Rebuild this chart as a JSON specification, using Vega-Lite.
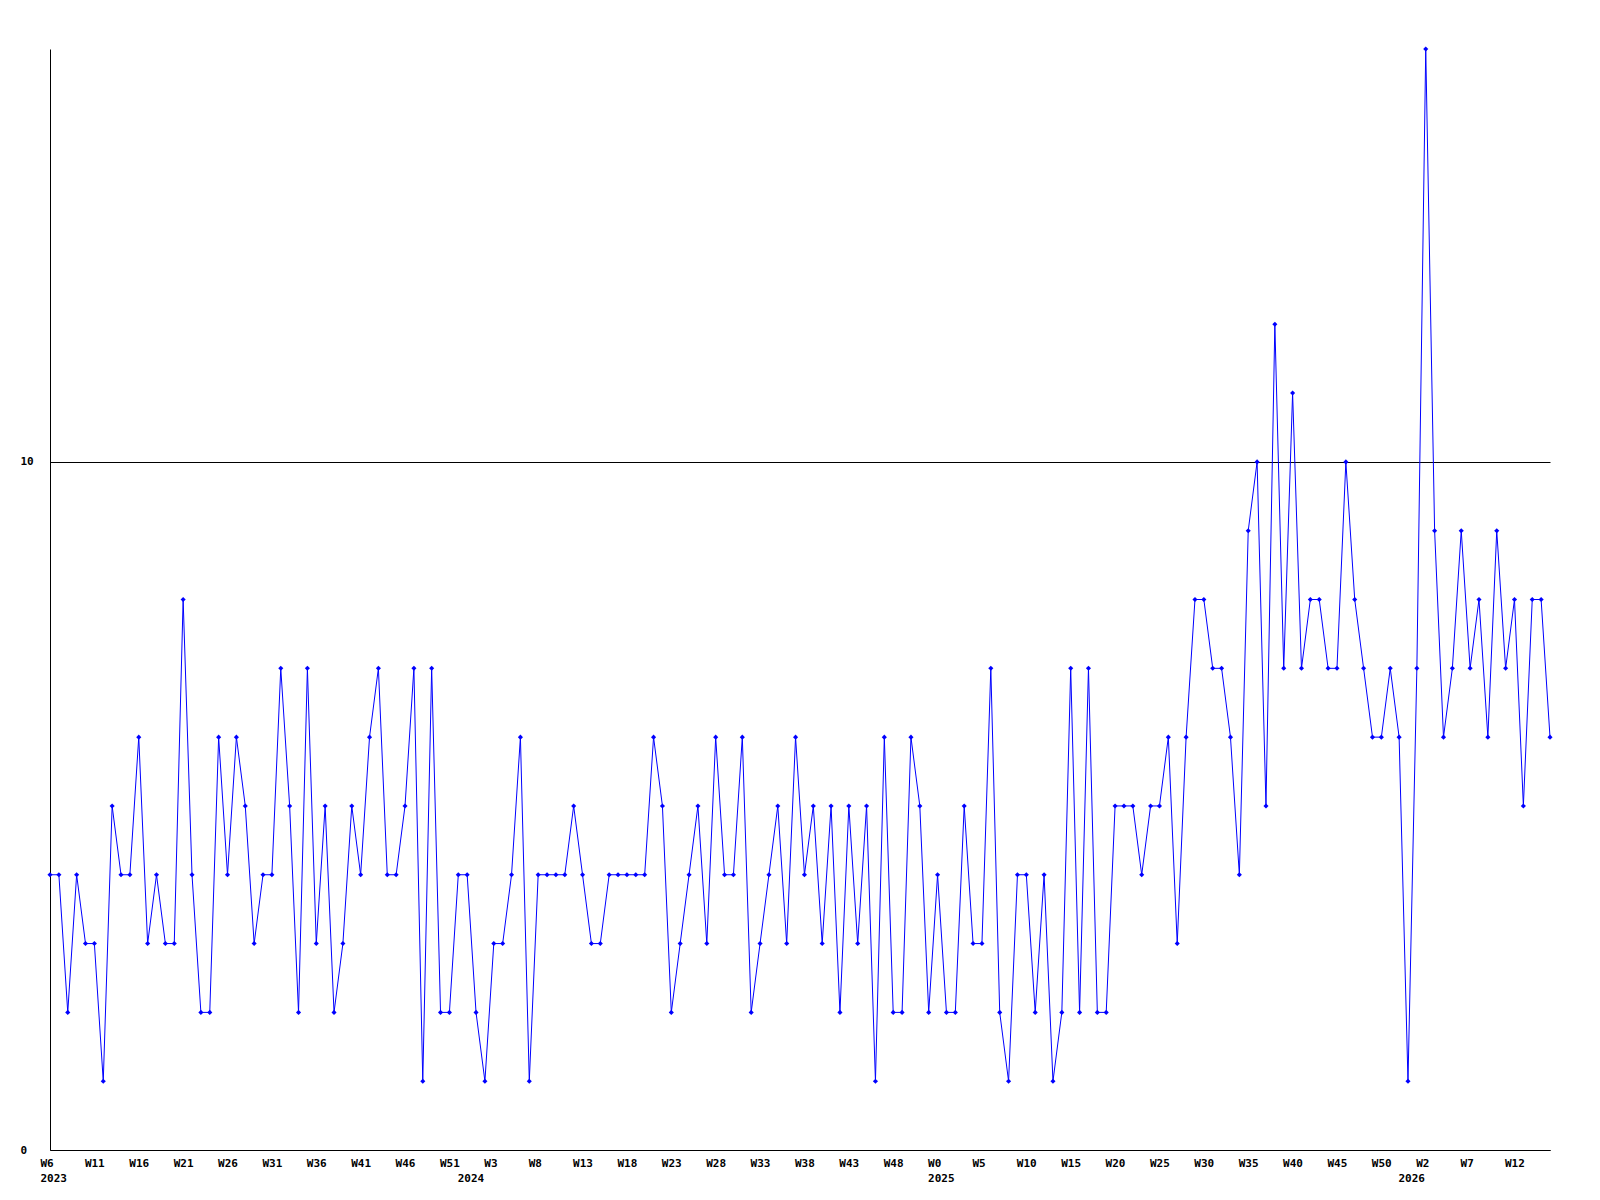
{
  "$schema": "https://vega.github.io/schema/vega-lite/v6.json",
  "autosize": {"type": "none"},
  "padding": {"left": 50, "top": 49, "right": 50, "bottom": 50},
  "width": 1500,
  "height": 1101,
  "background": "white",
  "config": {"view": {"stroke": null}},
  "data": {"values": [
    {"wk":"2023-06","n":4},{"wk":"2023-07","n":4},{"wk":"2023-08","n":2},{"wk":"2023-09","n":4},{"wk":"2023-10","n":3},
    {"wk":"2023-11","n":3},{"wk":"2023-12","n":1},{"wk":"2023-13","n":5},{"wk":"2023-14","n":4},{"wk":"2023-15","n":4},
    {"wk":"2023-16","n":6},{"wk":"2023-17","n":3},{"wk":"2023-18","n":4},{"wk":"2023-19","n":3},{"wk":"2023-20","n":3},
    {"wk":"2023-21","n":8},{"wk":"2023-22","n":4},{"wk":"2023-23","n":2},{"wk":"2023-24","n":2},{"wk":"2023-25","n":6},
    {"wk":"2023-26","n":4},{"wk":"2023-27","n":6},{"wk":"2023-28","n":5},{"wk":"2023-29","n":3},{"wk":"2023-30","n":4},
    {"wk":"2023-31","n":4},{"wk":"2023-32","n":7},{"wk":"2023-33","n":5},{"wk":"2023-34","n":2},{"wk":"2023-35","n":7},
    {"wk":"2023-36","n":3},{"wk":"2023-37","n":5},{"wk":"2023-38","n":2},{"wk":"2023-39","n":3},{"wk":"2023-40","n":5},
    {"wk":"2023-41","n":4},{"wk":"2023-42","n":6},{"wk":"2023-43","n":7},{"wk":"2023-44","n":4},{"wk":"2023-45","n":4},
    {"wk":"2023-46","n":5},{"wk":"2023-47","n":7},{"wk":"2023-48","n":1},{"wk":"2023-49","n":7},{"wk":"2023-50","n":2},
    {"wk":"2023-51","n":2},{"wk":"2023-52","n":4},
    {"wk":"2024-00","n":4},{"wk":"2024-01","n":2},{"wk":"2024-02","n":1},{"wk":"2024-03","n":3},{"wk":"2024-04","n":3},
    {"wk":"2024-05","n":4},{"wk":"2024-06","n":6},{"wk":"2024-07","n":1},{"wk":"2024-08","n":4},{"wk":"2024-09","n":4},
    {"wk":"2024-10","n":4},{"wk":"2024-11","n":4},{"wk":"2024-12","n":5},{"wk":"2024-13","n":4},{"wk":"2024-14","n":3},
    {"wk":"2024-15","n":3},{"wk":"2024-16","n":4},{"wk":"2024-17","n":4},{"wk":"2024-18","n":4},{"wk":"2024-19","n":4},
    {"wk":"2024-20","n":4},{"wk":"2024-21","n":6},{"wk":"2024-22","n":5},{"wk":"2024-23","n":2},{"wk":"2024-24","n":3},
    {"wk":"2024-25","n":4},{"wk":"2024-26","n":5},{"wk":"2024-27","n":3},{"wk":"2024-28","n":6},{"wk":"2024-29","n":4},
    {"wk":"2024-30","n":4},{"wk":"2024-31","n":6},{"wk":"2024-32","n":2},{"wk":"2024-33","n":3},{"wk":"2024-34","n":4},
    {"wk":"2024-35","n":5},{"wk":"2024-36","n":3},{"wk":"2024-37","n":6},{"wk":"2024-38","n":4},{"wk":"2024-39","n":5},
    {"wk":"2024-40","n":3},{"wk":"2024-41","n":5},{"wk":"2024-42","n":2},{"wk":"2024-43","n":5},{"wk":"2024-44","n":3},
    {"wk":"2024-45","n":5},{"wk":"2024-46","n":1},{"wk":"2024-47","n":6},{"wk":"2024-48","n":2},{"wk":"2024-49","n":2},
    {"wk":"2024-50","n":6},{"wk":"2024-51","n":5},{"wk":"2024-52","n":2},
    {"wk":"2025-00","n":4},{"wk":"2025-01","n":2},{"wk":"2025-02","n":2},{"wk":"2025-03","n":5},{"wk":"2025-04","n":3},
    {"wk":"2025-05","n":3},{"wk":"2025-06","n":7},{"wk":"2025-07","n":2},{"wk":"2025-08","n":1},{"wk":"2025-09","n":4},
    {"wk":"2025-10","n":4},{"wk":"2025-11","n":2},{"wk":"2025-12","n":4},{"wk":"2025-13","n":1},{"wk":"2025-14","n":2},
    {"wk":"2025-15","n":7},{"wk":"2025-16","n":2},{"wk":"2025-17","n":7},{"wk":"2025-18","n":2},{"wk":"2025-19","n":2},
    {"wk":"2025-20","n":5},{"wk":"2025-21","n":5},{"wk":"2025-22","n":5},{"wk":"2025-23","n":4},{"wk":"2025-24","n":5},
    {"wk":"2025-25","n":5},{"wk":"2025-26","n":6},{"wk":"2025-27","n":3},{"wk":"2025-28","n":6},{"wk":"2025-29","n":8},
    {"wk":"2025-30","n":8},{"wk":"2025-31","n":7},{"wk":"2025-32","n":7},{"wk":"2025-33","n":6},{"wk":"2025-34","n":4},
    {"wk":"2025-35","n":9},{"wk":"2025-36","n":10},{"wk":"2025-37","n":5},{"wk":"2025-38","n":12},{"wk":"2025-39","n":7},
    {"wk":"2025-40","n":11},{"wk":"2025-41","n":7},{"wk":"2025-42","n":8},{"wk":"2025-43","n":8},{"wk":"2025-44","n":7},
    {"wk":"2025-45","n":7},{"wk":"2025-46","n":10},{"wk":"2025-47","n":8},{"wk":"2025-48","n":7},{"wk":"2025-49","n":6},
    {"wk":"2025-50","n":6},{"wk":"2025-51","n":7},{"wk":"2025-52","n":6},
    {"wk":"2026-00","n":1},{"wk":"2026-01","n":7},{"wk":"2026-02","n":16},{"wk":"2026-03","n":9},{"wk":"2026-04","n":6},
    {"wk":"2026-05","n":7},{"wk":"2026-06","n":9},{"wk":"2026-07","n":7},{"wk":"2026-08","n":8},{"wk":"2026-09","n":6},
    {"wk":"2026-10","n":9},{"wk":"2026-11","n":7},{"wk":"2026-12","n":8},{"wk":"2026-13","n":5},{"wk":"2026-14","n":8},
    {"wk":"2026-15","n":8},{"wk":"2026-16","n":6}
  ]},
  "mark": {"type": "line", "color": "#0000ff", "strokeWidth": 1, "point": {"shape": "diamond", "size": 26, "filled": true, "color": "#0000ff"}},
  "encoding": {
    "x": {
      "field": "wk", "type": "ordinal", "sort": null,
      "scale": {"type": "point", "padding": 0},
      "axis": {
        "title": null,
        "values": ["2023-06","2023-11","2023-16","2023-21","2023-26","2023-31","2023-36","2023-41","2023-46","2023-51",
                   "2024-00","2024-03","2024-08","2024-13","2024-18","2024-23","2024-28","2024-33","2024-38","2024-43","2024-48",
                   "2025-00","2025-05","2025-10","2025-15","2025-20","2025-25","2025-30","2025-35","2025-40","2025-45","2025-50",
                   "2026-00","2026-02","2026-07","2026-12"],
        "labelExpr": "(datum.value == '2024-00' || datum.value == '2026-00') ? ['', substring(datum.value, 0, 4)] : ((datum.value == '2023-06' || datum.value == '2025-00') ? ['W' + toNumber(substring(datum.value, 5, 7)), substring(datum.value, 0, 4)] : 'W' + toNumber(substring(datum.value, 5, 7)))",
        "labelAngle": 0,
        "labelAlign": "left",
        "labelBaseline": "top",
        "labelOffset": -10,
        "labelPadding": 7,
        "labelLineHeight": 15,
        "labelOverlap": false,
        "labelFont": "DejaVu Sans Mono",
        "labelFontSize": 11,
        "labelFontWeight": "bold",
        "labelColor": "black",
        "ticks": false,
        "tickSize": 0,
        "domainColor": "black",
        "domainWidth": 1,
        "grid": false
      }
    },
    "y": {
      "field": "n", "type": "quantitative",
      "scale": {"domain": [0, 16], "nice": false, "zero": true},
      "axis": {
        "title": null,
        "values": [0, 10],
        "labelAlign": "left",
        "labelBaseline": "middle",
        "labelPadding": 30,
        "labelFont": "DejaVu Sans Mono",
        "labelFontSize": 11,
        "labelFontWeight": "bold",
        "labelColor": "black",
        "ticks": false,
        "tickSize": 0,
        "domainColor": "black",
        "domainWidth": 1,
        "grid": true,
        "gridColor": "black",
        "gridOpacity": 1,
        "gridWidth": 1
      }
    }
  }
}
